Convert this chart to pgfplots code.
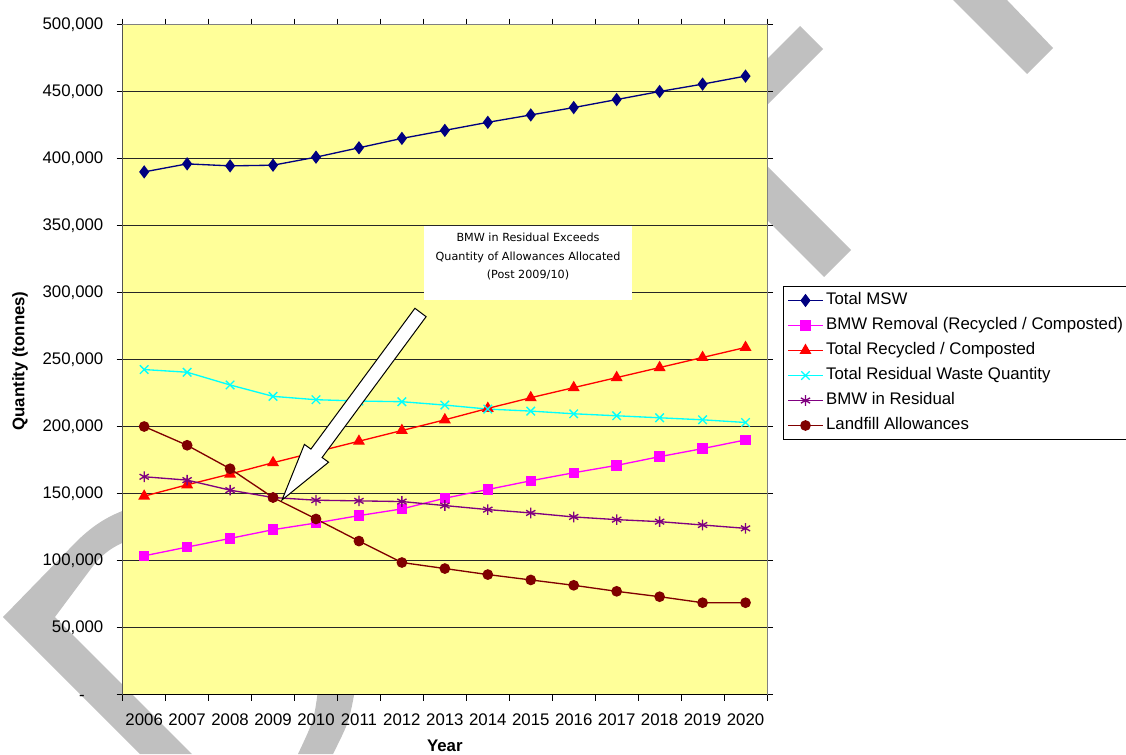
\documentclass[border=0pt]{standalone}
\usepackage{pgfplots}
\pgfplotsset{compat=1.18}
\usepackage{fontspec}
\setmainfont{Liberation Sans}
\newfontfamily\annfont{DejaVu Sans}
\definecolor{plotyellow}{HTML}{FFFF99}
\definecolor{msw}{HTML}{000080}
\definecolor{bmwrem}{HTML}{FF00FF}
\definecolor{recyc}{HTML}{FF0000}
\definecolor{resid}{HTML}{00FFFF}
\definecolor{bmwres}{HTML}{800080}
\definecolor{landfill}{HTML}{800000}
\definecolor{wm}{HTML}{C0C0C0}
\definecolor{frame}{HTML}{808080}
\begin{document}
\begin{tikzpicture}
% watermark (decoration)
\begin{scope}[x=0.75pt,y=-0.75pt,yshift=565.5pt]
\fill[wm] (3,617) -- (78,540) .. controls (95,524) and (108,516) .. (130,508) -- (130,540) .. controls (112,546) and (100,556) .. (90,570) -- (55,617) -- (192,754) -- (140,754) -- cycle;
\fill[wm] (318,690) .. controls (314,720) .. (298,754) -- (333,754) .. controls (349,722) .. (355,690) -- cycle;
\fill[wm] (755,71) -- (800,26) -- (823,49) -- (755,117) -- cycle;
\fill[wm] (755,154) -- (851,250) -- (824,277) -- (755,208) -- cycle;
\fill[wm] (953,0) -- (1007,0) -- (1053,48) -- (1027,74) -- cycle;
\end{scope}
\begin{axis}[
  at={(92.025pt,44.625pt)}, anchor=south west,
  scale only axis, width=483.225pt, height=502.5pt,
  xmin=-0.5, xmax=14.5, ymin=0, ymax=500000,
  scaled y ticks=false,
  axis background/.style={fill=plotyellow},
  axis line style={draw=frame, line width=0.75pt},
  ymajorgrids=true,
  grid style={black!85, line width=0.75pt},
  xtick={0,...,14},
  xticklabels={2006,2007,2008,2009,2010,2011,2012,2013,2014,2015,2016,2017,2018,2019,2020},
  major x tick style={draw=none},
  minor xtick={-0.5,0.5,...,14.5},
  minor x tick style={black, line width=0.75pt},
  minor tick length=4.5pt,
  ytick={0,50000,...,500000},
  yticklabels={{-\phantom{00}},{50,000},{100,000},{150,000},{200,000},{250,000},{300,000},{350,000},{400,000},{450,000},{500,000}},
  major y tick style={black, line width=0.75pt},
  major tick length=4.5pt,
  tick align=outside,
  ticklabel style={font=\fontsize{12.6}{15}\selectfont},
  yticklabel style={xshift=-6.5pt},
  xticklabel style={yshift=-6.5pt},
  xlabel={\bfseries Year},
  ylabel={\bfseries Quantity (tonnes)},
  label style={font=\fontsize{12.6}{15}\selectfont},
  xlabel style={at={(axis description cs:0.5,-0.0765)}, anchor=center},
  ylabel style={at={(axis description cs:-0.1594,0.4978)}, anchor=center},
  every axis plot/.append style={line width=1pt},
  legend image code/.code={\draw[mark repeat=2,mark phase=2,#1] plot coordinates {(0pt,0pt) (13pt,0pt) (26pt,0pt)};},
  legend style={at={(1.0248,0.6097)}, anchor=north west, draw=black, line width=0.75pt, fill=white,
    font=\fontsize{12.6}{15}\selectfont, inner xsep=3pt, inner ysep=4.5pt,
    nodes={inner ysep=0pt, text height=9pt, text depth=3pt}, row sep=6.75pt},
  legend cell align=left,
]
\addplot[color=msw, mark=diamond*, mark size=4.2pt, mark options={solid}] coordinates {
(0,390000) (1,396000) (2,394500) (3,395000) (4,401000) (5,408000) (6,415000) (7,421000) (8,427000) (9,432500) (10,438000) (11,444000) (12,450000) (13,455500) (14,461500)};
\addlegendentry{Total MSW}
\addplot[color=bmwrem, mark=square*, mark size=3.4pt] coordinates {
(0,103500) (1,110000) (2,116500) (3,123000) (4,128000) (5,133500) (6,138500) (7,146500) (8,153000) (9,159500) (10,165500) (11,171000) (12,177500) (13,183500) (14,190000)};
\addlegendentry{BMW Removal (Recycled / Composted)}
\addplot[color=recyc, mark=triangle*, mark size=4.2pt] coordinates {
(0,148000) (1,156500) (2,164500) (3,173000) (4,181000) (5,189000) (6,197000) (7,205000) (8,213500) (9,221500) (10,229000) (11,236500) (12,244000) (13,251500) (14,259000)};
\addlegendentry{Total Recycled / Composted}
\addplot[color=resid, mark=x, mark size=4.5pt] coordinates {
(0,242500) (1,240500) (2,231000) (3,222500) (4,220000) (5,219000) (6,218500) (7,216000) (8,213000) (9,211500) (10,209500) (11,208000) (12,206500) (13,205000) (14,203000)};
\addlegendentry{Total Residual Waste Quantity}
\addplot[color=bmwres, mark=asterisk, mark size=4pt] coordinates {
(0,162500) (1,160000) (2,152500) (3,147000) (4,145000) (5,144500) (6,144000) (7,141000) (8,138000) (9,135500) (10,132500) (11,130500) (12,129000) (13,126500) (14,124000)};
\addlegendentry{BMW in Residual}
\addplot[color=landfill, mark=*, mark size=3.5pt] coordinates {
(0,200000) (1,186000) (2,168500) (3,147000) (4,131000) (5,114500) (6,98500) (7,94000) (8,89500) (9,85500) (10,81500) (11,77000) (12,73000) (13,68500) (14,68500)};
\addlegendentry{Landfill Allowances}
\draw[black, line width=0.75pt] (rel axis cs:0,1) -- (rel axis cs:0,0) -- (rel axis cs:1,0);
\end{axis}
\begin{scope}[x=0.75pt,y=-0.75pt,yshift=565.5pt]
\fill[white] (424,226) rectangle (632,300);
\node[font=\annfont\fontsize{8.4}{14}\selectfont, align=center, inner sep=0pt] at (528,256.5) {BMW in Residual Exceeds\\Quantity of Allowances Allocated\\(Post 2009/10)};
\filldraw[fill=white, draw=black, line width=0.75pt, line join=miter] (282,500) -- (304.4,444.4) -- (310.9,449.1) -- (414.9,308.3) -- (426.1,316.7) -- (322.1,457.5) -- (328.6,462.2) -- cycle;
\end{scope}
\pgfresetboundingbox
\path (0,0) rectangle (844.5pt,565.5pt);
\end{tikzpicture}
\end{document}
